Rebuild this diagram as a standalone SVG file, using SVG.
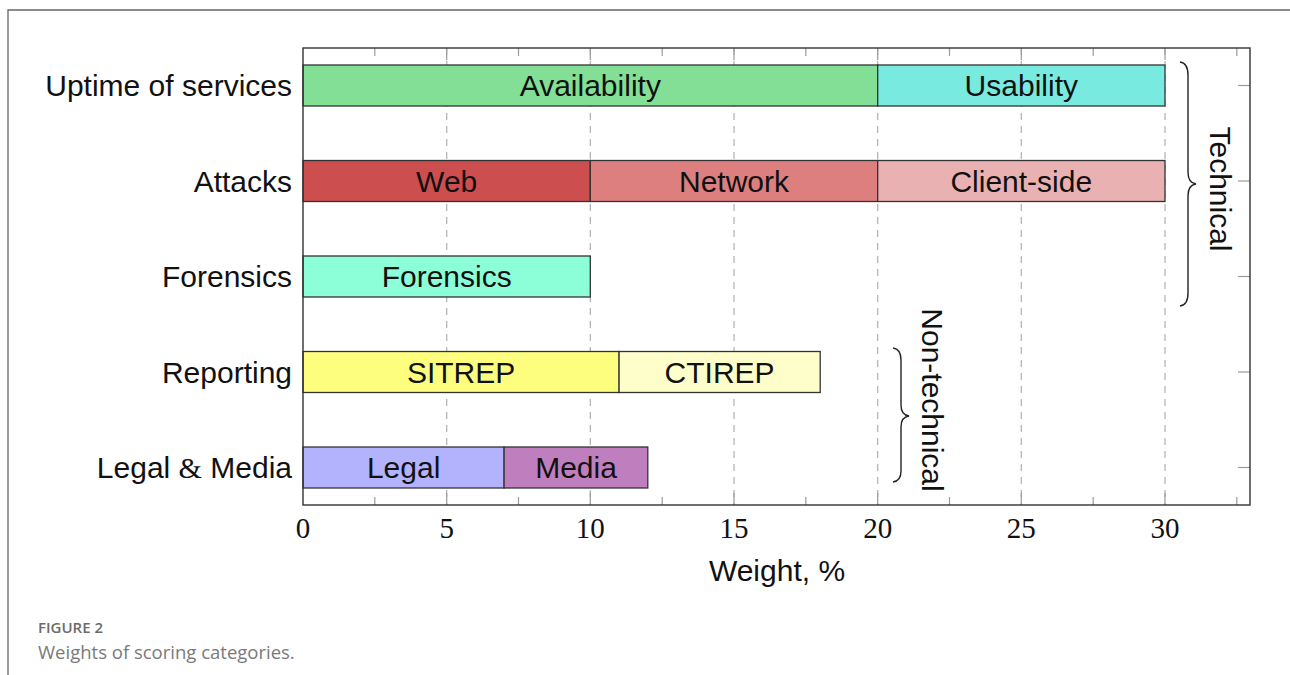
<svg xmlns="http://www.w3.org/2000/svg" width="1290" height="675" viewBox="0 0 1290 675">
  <defs>
    <style>
      .lbl { font-family: "Liberation Sans", Arial, sans-serif; font-size: 30px; fill: #111; }
      .mid { text-anchor: middle; }
      .end { text-anchor: end; }
      .num { font-family: "Liberation Serif", "DejaVu Serif", serif; font-size: 29px; fill: #111; text-anchor: middle; }
      .bar { stroke: #333; stroke-width: 1.3; }
      .grid { stroke: #b0b0b0; stroke-width: 1.2; stroke-dasharray: 7 6; fill: none; }
      .tick { stroke: #9a9a9a; stroke-width: 1.2; }
      .axis { fill: none; stroke: #333; stroke-width: 1.4; }
      .brace { fill: none; stroke: #222; stroke-width: 1.4; }
      .cap1 { font-family: "Open Sans", "Noto Sans", sans-serif; font-size: 15px; font-weight: 600; fill: #6b6b6b; }
      .cap2 { font-family: "Open Sans", "Noto Sans", sans-serif; font-size: 18.5px; fill: #7a7a7a; }
    </style>
  </defs>

  <rect x="0" y="0" width="1290" height="675" fill="#ffffff"/>

  <!-- figure frame -->
  <path d="M8,675 L8,10 L1290,10" fill="none" stroke="#666" stroke-width="1.3"/>

  <!-- vertical dashed grid at major x ticks -->
  <g id="grid">
    <line class="grid" x1="446.7" y1="48" x2="446.7" y2="505"/>
    <line class="grid" x1="590.3" y1="48" x2="590.3" y2="505"/>
    <line class="grid" x1="734.0" y1="48" x2="734.0" y2="505"/>
    <line class="grid" x1="877.7" y1="48" x2="877.7" y2="505"/>
    <line class="grid" x1="1021.3" y1="48" x2="1021.3" y2="505"/>
    <line class="grid" x1="1165.0" y1="48" x2="1165.0" y2="505"/>
  </g>

  <!-- axis ticks -->
  <g id="ticks">
    <!-- bottom -->
    <line class="tick" x1="374.8" y1="505" x2="374.8" y2="497"/>
    <line class="tick" x1="446.7" y1="505" x2="446.7" y2="493"/>
    <line class="tick" x1="518.5" y1="505" x2="518.5" y2="497"/>
    <line class="tick" x1="590.3" y1="505" x2="590.3" y2="493"/>
    <line class="tick" x1="662.2" y1="505" x2="662.2" y2="497"/>
    <line class="tick" x1="734.0" y1="505" x2="734.0" y2="493"/>
    <line class="tick" x1="805.8" y1="505" x2="805.8" y2="497"/>
    <line class="tick" x1="877.7" y1="505" x2="877.7" y2="493"/>
    <line class="tick" x1="949.5" y1="505" x2="949.5" y2="497"/>
    <line class="tick" x1="1021.3" y1="505" x2="1021.3" y2="493"/>
    <line class="tick" x1="1093.2" y1="505" x2="1093.2" y2="497"/>
    <line class="tick" x1="1165.0" y1="505" x2="1165.0" y2="493"/>
    <line class="tick" x1="1236.8" y1="505" x2="1236.8" y2="497"/>
    <!-- top -->
    <line class="tick" x1="374.8" y1="48" x2="374.8" y2="56"/>
    <line class="tick" x1="446.7" y1="48" x2="446.7" y2="60"/>
    <line class="tick" x1="518.5" y1="48" x2="518.5" y2="56"/>
    <line class="tick" x1="590.3" y1="48" x2="590.3" y2="60"/>
    <line class="tick" x1="662.2" y1="48" x2="662.2" y2="56"/>
    <line class="tick" x1="734.0" y1="48" x2="734.0" y2="60"/>
    <line class="tick" x1="805.8" y1="48" x2="805.8" y2="56"/>
    <line class="tick" x1="877.7" y1="48" x2="877.7" y2="60"/>
    <line class="tick" x1="949.5" y1="48" x2="949.5" y2="56"/>
    <line class="tick" x1="1021.3" y1="48" x2="1021.3" y2="60"/>
    <line class="tick" x1="1093.2" y1="48" x2="1093.2" y2="56"/>
    <line class="tick" x1="1165.0" y1="48" x2="1165.0" y2="60"/>
    <line class="tick" x1="1236.8" y1="48" x2="1236.8" y2="56"/>
    <!-- right -->
    <line class="tick" x1="1250" y1="85.5" x2="1238" y2="85.5"/>
    <line class="tick" x1="1250" y1="181" x2="1238" y2="181"/>
    <line class="tick" x1="1250" y1="276.5" x2="1238" y2="276.5"/>
    <line class="tick" x1="1250" y1="372" x2="1238" y2="372"/>
    <line class="tick" x1="1250" y1="467.5" x2="1238" y2="467.5"/>
  </g>

  <!-- stacked bars -->
  <g id="uptime">
    <rect class="bar" x="303" y="65" width="574.7" height="41" fill="#83df95"/>
    <rect class="bar" x="877.7" y="65" width="287.3" height="41" fill="#79eadf"/>
    <text class="lbl mid" x="590.3" y="96">Availability</text>
    <text class="lbl mid" x="1021.3" y="96">Usability</text>
  </g>
  <g id="attacks">
    <rect class="bar" x="303" y="160.5" width="287.3" height="41" fill="#cc4e4e"/>
    <rect class="bar" x="590.3" y="160.5" width="287.4" height="41" fill="#dd7f7f"/>
    <rect class="bar" x="877.7" y="160.5" width="287.3" height="41" fill="#e9b1b1"/>
    <text class="lbl mid" x="446.7" y="191.5">Web</text>
    <text class="lbl mid" x="734.0" y="191.5">Network</text>
    <text class="lbl mid" x="1021.3" y="191.5">Client-side</text>
  </g>
  <g id="forensics">
    <rect class="bar" x="303" y="256" width="287.3" height="41" fill="#8cfed8"/>
    <text class="lbl mid" x="446.7" y="287">Forensics</text>
  </g>
  <g id="reporting">
    <rect class="bar" x="303" y="351.5" width="316.1" height="41" fill="#fefe7e"/>
    <rect class="bar" x="619.1" y="351.5" width="201.1" height="41" fill="#fefecb"/>
    <text class="lbl mid" x="461.1" y="382.5">SITREP</text>
    <text class="lbl mid" x="719.6" y="382.5">CTIREP</text>
  </g>
  <g id="legal-media">
    <rect class="bar" x="303" y="447" width="201.1" height="41" fill="#b3b3fd"/>
    <rect class="bar" x="504.1" y="447" width="143.7" height="41" fill="#bf7fbf"/>
    <text class="lbl mid" x="403.6" y="478">Legal</text>
    <text class="lbl mid" x="576" y="478">Media</text>
  </g>

  <!-- plot frame -->
  <rect class="axis" x="303" y="48" width="947" height="457"/>

  <!-- category labels -->
  <g id="categories">
    <text class="lbl end" x="292" y="96">Uptime of services</text>
    <text class="lbl end" x="292" y="191.5">Attacks</text>
    <text class="lbl end" x="292" y="287">Forensics</text>
    <text class="lbl end" x="292" y="382.5">Reporting</text>
    <text class="lbl end" x="292" y="478">Legal <tspan font-family="'Liberation Serif', serif">&amp;</tspan> Media</text>
  </g>

  <!-- x tick labels -->
  <g id="xlabels">
    <text class="num" x="303" y="538">0</text>
    <text class="num" x="446.7" y="538">5</text>
    <text class="num" x="590.3" y="538">10</text>
    <text class="num" x="734.0" y="538">15</text>
    <text class="num" x="877.7" y="538">20</text>
    <text class="num" x="1021.3" y="538">25</text>
    <text class="num" x="1165.0" y="538">30</text>
  </g>
  <text class="lbl mid" x="777" y="581">Weight, %</text>

  <!-- group braces -->
  <g id="technical">
    <path class="brace" d="M1180,62 Q1188,63 1188,75 L1188,172 Q1188,183 1196,184 Q1188,185 1188,196 L1188,293 Q1188,305 1180,306"/>
    <text class="lbl mid" transform="translate(1210,189) rotate(90)" font-size="31">Technical</text>
  </g>
  <g id="non-technical">
    <path class="brace" d="M893,348 Q901,349 901,360 L901,405 Q901,415 909,416 Q901,417 901,427 L901,471 Q901,481 893,482"/>
    <text class="lbl mid" transform="translate(922,400) rotate(90)" font-size="31">Non-technical</text>
  </g>

  <!-- caption -->
  <text class="cap1" x="38" y="633">FIGURE 2</text>
  <text class="cap2" x="38" y="659">Weights of scoring categories.</text>
</svg>
